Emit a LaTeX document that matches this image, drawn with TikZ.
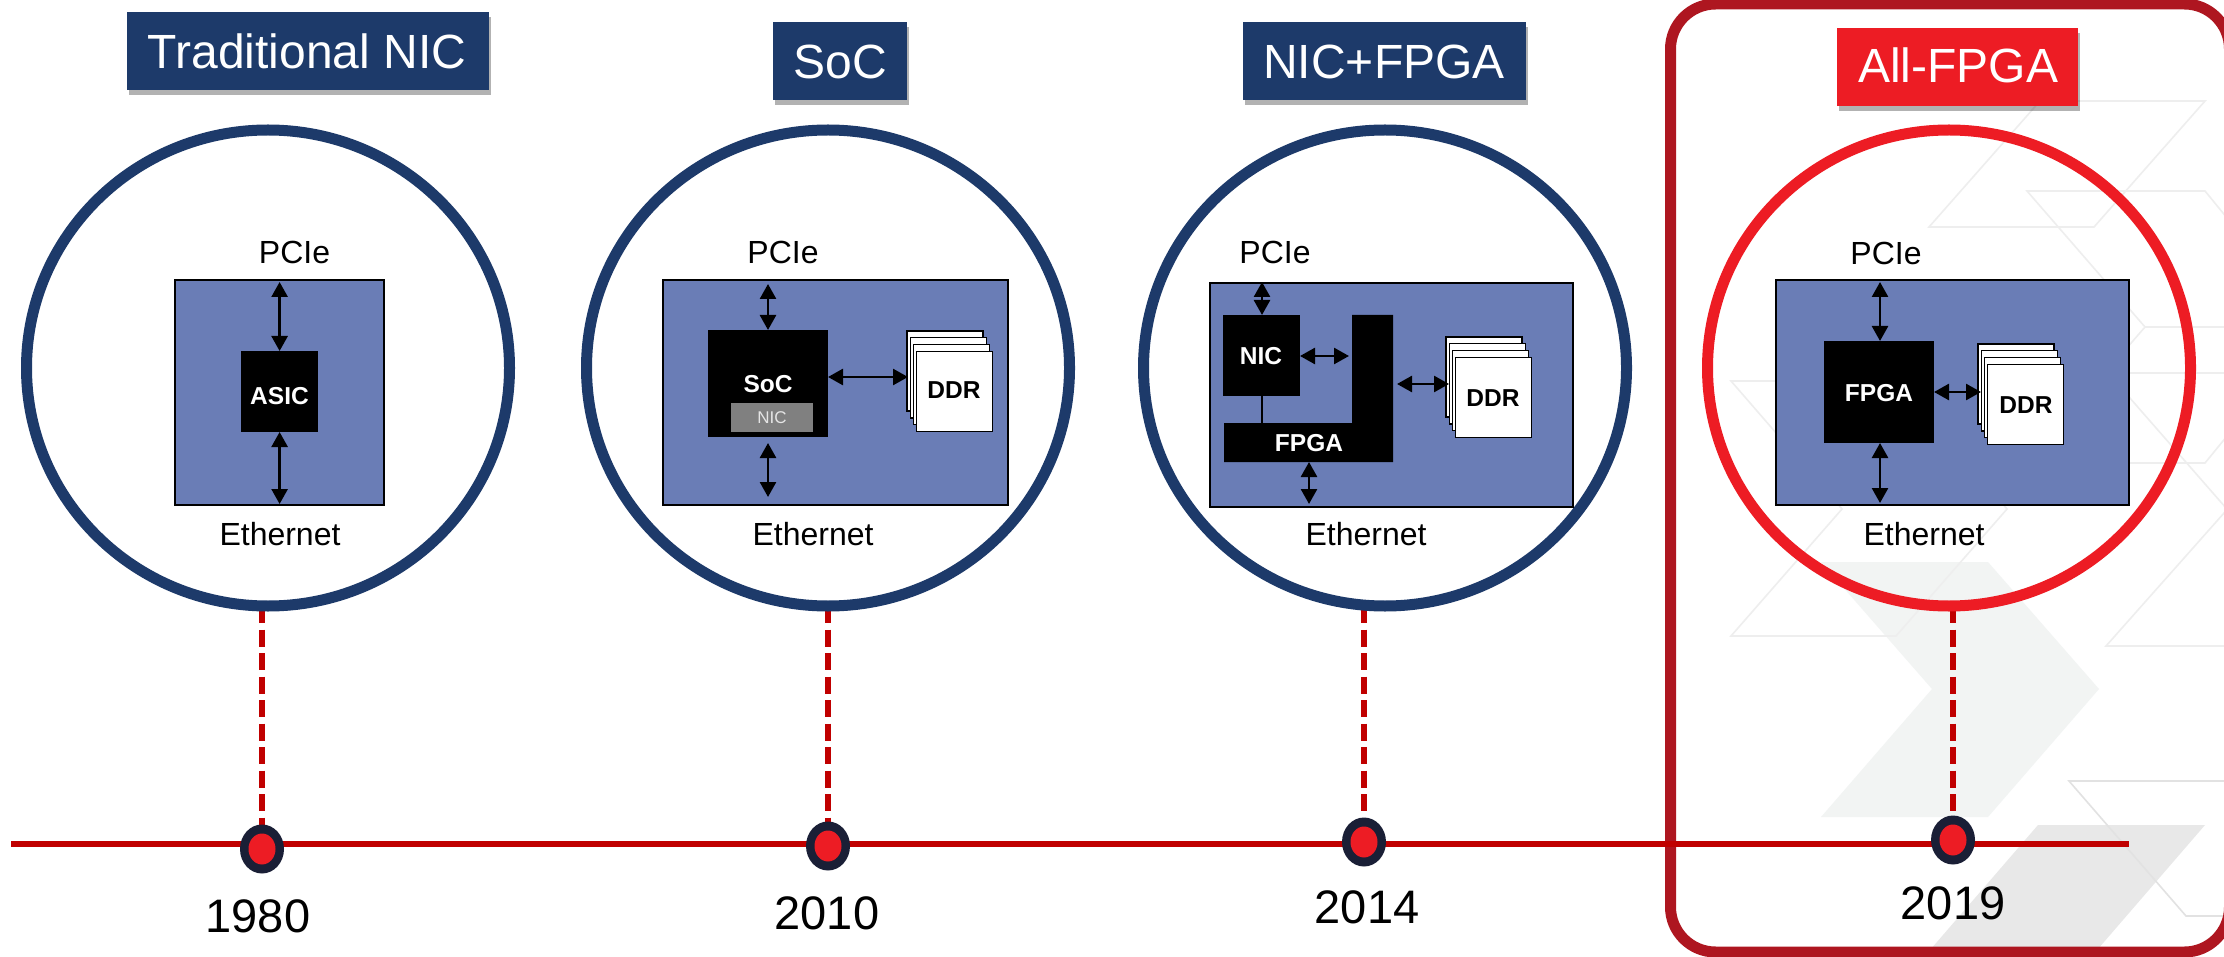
\documentclass[tikz,border=0pt]{standalone}
\usepackage{fontspec}
\setmainfont{Liberation Sans}
\usetikzlibrary{arrows.meta,shapes.geometric,shadows,calc}
\pgfdeclarelayer{back}
\pgfsetlayers{back,main}
\definecolor{navy}{HTML}{1D3A6A}
\definecolor{brightred}{HTML}{ED1C24}
\definecolor{framered}{HTML}{AE1620}
\definecolor{linered}{HTML}{C00000}
\definecolor{dotdark}{HTML}{1A1F36}
\definecolor{bluebox}{HTML}{6A7DB6}
\definecolor{chevlight}{HTML}{F2F4F3}
\definecolor{chevdark}{HTML}{E8E8E8}
\definecolor{hair}{HTML}{EEEEEE}
\definecolor{hairdark}{HTML}{E2E2E2}
\definecolor{nicgray}{HTML}{808080}
\tikzset{
  fs/.style={font=\fontsize{#1}{#1}\selectfont},
  lbl/.style={anchor=base,inner sep=0pt,outer sep=0pt,fs=32,text=black},
  year/.style={anchor=base,inner sep=0pt,outer sep=0pt,fs=47,text=black},
  chip/.style={anchor=base,inner sep=0pt,outer sep=0pt,font=\fontsize{24.5}{24.5}\selectfont\bfseries,text=#1},
  chip/.default=white,
  box/.style={rectangle,inner sep=0pt,outer sep=0pt},
  title/.style={box,fill=#1,text=white,fs=48,
    drop shadow={shadow xshift=2pt,shadow yshift=-5pt,fill=black,opacity=.3}},
  ring/.style={ellipse,inner sep=0pt,outer sep=0pt,draw=#1,line width=11pt,
    minimum width=483pt,minimum height=476pt},
  ddrcard/.style={box,draw=black,line width=1.4pt,fill=white,minimum width=76pt,minimum height=80pt},
  dotout/.style={ellipse,inner sep=0pt,outer sep=0pt,fill=dotdark,minimum width=44pt,minimum height=49pt},
  dotin/.style={ellipse,inner sep=0pt,outer sep=0pt,fill=brightred,minimum width=27pt,minimum height=31pt},
  dbl/.style={draw=black,line width=2.6pt,{Triangle[length=15pt,width=16pt]}-{Triangle[length=15pt,width=16pt]}},
  stem/.style={draw=linered,line width=6pt,dash pattern=on 17pt off 6.5pt},
  tline/.style={draw=linered,line width=6pt},
  hairline/.style={draw=hair,line width=1.6pt},
  hairlined/.style={draw=hairdark,line width=1.6pt},
}
% name, x1, y1, x2, y2, style
\newcommand{\bx}[6]{%
  \pgfmathsetmacro{\bw}{#4-#2}\pgfmathsetmacro{\bh}{#5-#3}%
  \pgfmathsetmacro{\bcx}{(#2+#4)/2}\pgfmathsetmacro{\bcy}{(#3+#5)/2}%
  \node[box,minimum width=\bw pt,minimum height=\bh pt,#6] (#1) at (\bcx,\bcy) {};}
\newcommand{\ddrstack}[3]{% prefix, back-left x, back-top y
  \foreach \k in {0,1,2,3}{%
    \node[ddrcard,anchor=north west] (#1\k) at ({#2+\k*3.2},{#3+\k*6.8}) {};}}
\begin{document}
\begin{tikzpicture}[x=1pt,y=-1pt]
\useasboundingbox (0,0) rectangle (2224,957);

% rings and dots
\node[ring=navy] (c1) at (268,368) {};
\node[ring=navy] (c2) at (828,368) {};
\node[ring=navy] (c3) at (1385,368) {};
\node[ring=brightred] (c4) at (1949,368) {};
\node[dotout] (d1) at (262,849) {}; \node[dotin] at (d1) {};
\node[dotout] (d2) at (828,846) {}; \node[dotin] at (d2) {};
\node[dotout] (d3) at (1364,842) {}; \node[dotin] at (d3) {};
\node[dotout] (d4) at (1953,840) {}; \node[dotin] at (d4) {};
\coordinate (tlL) at (11,844);
\coordinate (tlR) at (2129,844);

\begin{pgfonlayer}{back}
  \fill[white] (0,0) rectangle (2224,957);
  \begin{scope}
    \clip (0,0) rectangle (2224,957);
    \fill[chevlight] (1821,562) -- (1988,562) -- (2099,689) -- (1988,817) -- (1821,817) -- (1932,689) -- cycle;
    \fill[chevdark] (2038,825) -- (2205,825) -- (2091,957) -- (1924,957) -- cycle;
    \draw[hairline] (1731,381) -- (1896,381) -- (2007,509) -- (1896,636) -- (1731,636) -- (1842,509) -- cycle;
    \draw[hairline] (2040,101) -- (2205,101) -- (2094,227) -- (1929,227) -- cycle;
    \draw[hairline] (2027,191) -- (2205,191) -- (2316,327) -- (2205,463) -- (2027,463) -- (2145,327) -- cycle;
    \draw[hairline] (2145,327) -- (2240,327);
    \draw[hairline] (2108,373) -- (2240,373);
    \draw[hairline] (2108,373) -- (2240,524);
    \draw[hairline] (2240,495) -- (2106,646) -- (2240,646);
    \draw[hairlined] (2240,781) -- (2069,781) -- (2186,916) -- (2240,916);
    \node[box,draw=framered,line width=11pt,rounded corners=45pt,minimum width=559pt,minimum height=948pt,anchor=north west] (frame) at (1670.5,4) {};
  \end{scope}
  \draw[tline] (tlL) -- (tlR);
  \draw[stem] (c1.south -| d1) -- (d1);
  \draw[stem] (c2.south -| d2) -- (d2);
  \draw[stem] (c3.south -| d3) -- (d3);
  \draw[stem] (c4.south -| d4) -- (d4);
\end{pgfonlayer}

% titles
\bx{t1}{127}{12}{489}{90}{title=navy}
\bx{t2}{773}{22}{907}{100}{title=navy}
\bx{t3}{1243}{22}{1526}{100}{title=navy}
\bx{t4}{1837}{28}{2078}{106}{title=brightred}
\node[anchor=base,inner sep=0pt,fs=48,text=white] (t1l) at (307,69) {Traditional NIC};
\node[anchor=base,inner sep=0pt,fs=48,text=white] (t2l) at (840,79) {SoC};
\node[anchor=base,inner sep=0pt,fs=48,text=white] (t3l) at (1384,79) {NIC+FPGA};
\node[anchor=base,inner sep=0pt,fs=48,text=white] (t4l) at (1958,83) {All-FPGA};

% panel 1
\bx{b1}{175}{280}{384}{505}{draw=black,line width=2pt,fill=bluebox}
\bx{asic}{241}{351}{318}{432}{fill=black}
\node[chip] (asicl) at (279.5,404) {ASIC};
\draw[dbl] ($(asic.north -| 279.6,0)$) -- ($(b1.north -| 279.6,0)+(0,2)$);
\draw[dbl] ($(asic.south -| 279.6,0)$) -- ($(b1.south -| 279.6,0)+(0,-1)$);
\node[lbl] (p1) at (294.5,264) {PCIe};
\node[lbl] (e1) at (280,545) {Ethernet};

% panel 2
\bx{b2}{663}{280}{1008}{505}{draw=black,line width=2pt,fill=bluebox}
\bx{soc}{708}{330}{828}{437}{fill=black}
\bx{nic2}{731}{403}{813}{432}{fill=nicgray}
\node[chip] (socl) at (768,392) {SoC};
\node[anchor=base,inner sep=0pt,fs=17,text=white!90!black] (nic2l) at (772,423) {NIC};
\ddrstack{m}{907}{331}
\node[chip=black] (ddr2l) at (954,399) {DDR};
\coordinate (s2a) at (768,284);
\coordinate (s2b) at (768,497);
\coordinate (s2c) at (768,443);
\coordinate (s2d) at (908,377);
\draw[dbl] (s2a) -- (soc.north);
\draw[dbl] (s2c) -- (s2b);
\draw[dbl] (soc.east |- s2d) -- (s2d);
\node[lbl] (p2) at (783,264) {PCIe};
\node[lbl] (e2) at (813,545) {Ethernet};

% panel 3
\bx{b3}{1210}{283}{1573}{507}{draw=black,line width=2pt,fill=bluebox}
\bx{nic3}{1223}{315}{1300}{396}{fill=black}
\fill[black] (1224,423) -- (1352,423) -- (1352,315) -- (1393,315) -- (1393,462) -- (1224,462) -- cycle;
\coordinate (fp3top) at (1262,423);
\coordinate (fp3bot) at (1309,462);
\coordinate (fp3in) at (1349,356);
\coordinate (fp3out) at (1397,384);
\draw[black,line width=1.6pt] (nic3.south -| fp3top) -- (fp3top);
\node[chip] (nic3l) at (1261,364) {NIC};
\node[chip] (fpga3l) at (1309,451) {FPGA};
\ddrstack{n}{1446}{337}
\node[chip=black] (ddr3l) at (1493,406) {DDR};
\coordinate (a3) at (1262,282);
\coordinate (a3b) at (1309,504);
\coordinate (a3c) at (1449,384);
\draw[dbl] (a3) -- (nic3.north -| a3);
\draw[dbl] (fp3bot) -- (a3b);
\draw[dbl] (nic3.east |- fp3in) -- (fp3in);
\draw[dbl] (fp3out) -- (a3c);
\node[lbl] (p3) at (1275,264) {PCIe};
\node[lbl] (e3) at (1366,545) {Ethernet};

% panel 4
\bx{b4}{1776}{280}{2129}{505}{draw=black,line width=2pt,fill=bluebox}
\bx{fp4}{1824}{341}{1934}{443}{fill=black}
\node[chip] (fp4l) at (1879,401) {FPGA};
\ddrstack{q}{1978}{344}
\node[chip=black] (ddr4l) at (2026,413) {DDR};
\coordinate (a4t) at (1880,282);
\coordinate (a4b) at (1880,503);
\coordinate (a4r) at (1981,392);
\draw[dbl] (a4t) -- (a4t |- fp4.north);
\draw[dbl] (a4t |- fp4.south) -- (a4b);
\draw[dbl] (fp4.east |- a4r) -- (a4r);
\node[lbl] (p4) at (1886,265) {PCIe};
\node[lbl] (e4) at (1924,545) {Ethernet};

% years
\node[year] (y1) at (258,932) {1980};
\node[year] (y2) at (827,929) {2010};
\node[year] (y3) at (1367,923) {2014};
\node[year] (y4) at (1953,919) {2019};
\end{tikzpicture}
\end{document}
